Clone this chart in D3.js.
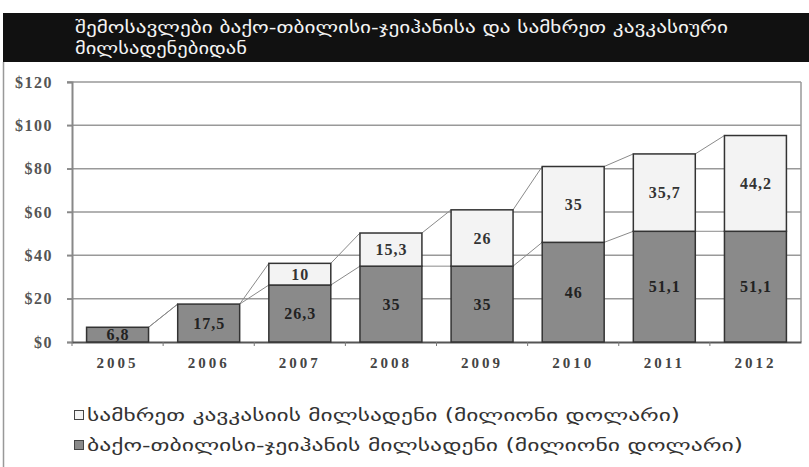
<!DOCTYPE html>
<html>
<head>
<meta charset="utf-8">
<script src="https://cdn.jsdelivr.net/npm/d3@7"></script>
<style>
  body { margin: 0; background: #fff; }
  svg { display: block; }
</style>
</head>
<body>
<svg id="chart" width="809" height="467"></svg>
<script>
var years = ["2005", "2006", "2007", "2008", "2009", "2010", "2011", "2012"];
var btcValues = [6.8, 17.5, 26.3, 35, 35, 46, 51.1, 51.1];
var scpValues = [0, 0, 10, 15.3, 26, 35, 35.7, 44.2];
var yTicks = [0, 20, 40, 60, 80, 100, 120];
var titleLines = [
  "შემოსავლები ბაქო-თბილისი-ჯეიჰანისა და სამხრეთ კავკასიური",
  "მილსადენებიდან"
];
var legendLabels = [
  "სამხრეთ კავკასიის მილსადენი (მილიონი დოლარი)",
  "ბაქო-თბილისი-ჯეიჰანის მილსადენი (მილიონი დოლარი)"
];

var svg = d3.select("#chart");
var geo = "'DejaVu Sans', sans-serif";
var serif = "'Liberation Serif', 'DejaVu Serif', serif";

// title band
svg.append("rect")
  .attr("x", 3).attr("y", 13).attr("width", 806).attr("height", 49)
  .attr("fill", "#111");
var titleWidths = [653, 172];
svg.selectAll(".title")
  .data(titleLines)
  .enter().append("text")
    .attr("class", "title")
    .attr("x", 75)
    .attr("y", function (d, i) { return 33 + i * 21; })
    .attr("fill", "#f4f4f4")
    .attr("textLength", function (d, i) { return titleWidths[i]; })
    .attr("lengthAdjust", "spacingAndGlyphs")
    .style("font-family", geo)
    .style("font-size", "17px")
    .text(function (d) { return d; });

// outer frame below title
svg.append("line")
  .attr("x1", 3.5).attr("x2", 3.5).attr("y1", 62).attr("y2", 467)
  .attr("stroke", "#999").attr("stroke-width", 1.5);

var plotLeft = 72, plotRight = 801, plotTop = 82, plotBottom = 342;

var x = d3.scaleBand().domain(years).range([plotLeft, plotRight])
  .paddingInner(0.32).paddingOuter(0.16);
var y = d3.scaleLinear().domain([0, 120]).range([plotBottom, plotTop]);

// grid
svg.selectAll(".grid")
  .data(yTicks.slice(1))
  .enter().append("line")
    .attr("class", "grid")
    .attr("x1", plotLeft - 5).attr("x2", plotRight)
    .attr("y1", function (d) { return y(d); })
    .attr("y2", function (d) { return y(d); })
    .attr("stroke", "#999").attr("stroke-width", 1.5);

svg.append("line")
  .attr("x1", plotRight).attr("x2", plotRight).attr("y1", plotTop).attr("y2", plotBottom)
  .attr("stroke", "#999").attr("stroke-width", 1.5);

// y axis
var yAxis = svg.append("g")
  .attr("transform", "translate(" + plotLeft + ",0)")
  .call(d3.axisLeft(y).tickValues(yTicks).tickSize(5).tickPadding(14)
    .tickFormat(function (d) { return "$" + d; }));
yAxis.select(".domain").attr("stroke", "#888").attr("stroke-width", 2);
yAxis.selectAll(".tick line").attr("stroke", "#888").attr("stroke-width", 1.5);
yAxis.selectAll("text")
  .attr("fill", "#555")
  .style("font-family", serif)
  .style("font-size", "16px")
  .style("font-weight", "bold")
  .style("letter-spacing", "1.5px");

// x axis
var xAxis = svg.append("g")
  .attr("transform", "translate(0," + plotBottom + ")")
  .call(d3.axisBottom(x).tickSize(0).tickPadding(15));
xAxis.select(".domain").attr("stroke", "#555").attr("stroke-width", 2);
xAxis.selectAll("text")
  .attr("fill", "#444")
  .style("font-family", serif)
  .style("font-size", "15px")
  .style("font-weight", "bold")
  .style("letter-spacing", "3px");
// small ticks between categories
svg.selectAll(".sep")
  .data(years)
  .enter().append("line")
    .attr("class", "sep")
    .attr("x1", function (d) { return x(d) - x.step() * x.paddingInner() / 2; })
    .attr("x2", function (d) { return x(d) - x.step() * x.paddingInner() / 2; })
    .attr("y1", plotBottom).attr("y2", plotBottom + 4)
    .attr("stroke", "#777");

// stacked data
var rows = years.map(function (yr, i) {
  return { year: yr, btc: btcValues[i], scp: scpValues[i] };
});
var stack = d3.stack().keys(["btc", "scp"])(rows);
var fills = { btc: "#8a8a8a", scp: "#f3f3f3" };

// connector lines
stack.forEach(function (layer) {
  for (var i = 0; i < years.length - 1; i++) {
    svg.append("line")
      .attr("x1", x(years[i]) + x.bandwidth())
      .attr("y1", y(layer[i][1]))
      .attr("x2", x(years[i + 1]))
      .attr("y2", y(layer[i + 1][1]))
      .attr("stroke", "#8a8a8a").attr("stroke-width", 1);
  }
});

stack.forEach(function (layer) {
  var key = layer.key;
  var g = svg.append("g");
  var vis = layer.filter(function (d) { return d.data[key] > 0; });
  g.selectAll("rect")
    .data(vis)
    .enter().append("rect")
      .attr("x", function (d) { return x(d.data.year); })
      .attr("y", function (d) { return y(d[1]); })
      .attr("width", x.bandwidth())
      .attr("height", function (d) { return y(d[0]) - y(d[1]); })
      .attr("fill", fills[key])
      .attr("stroke", "#333").attr("stroke-width", 1.5);
  g.selectAll("text")
    .data(vis)
    .enter().append("text")
      .attr("x", function (d) { return x(d.data.year) + x.bandwidth() / 2 + 0.5; })
      .attr("y", function (d) { return (y(d[0]) + y(d[1])) / 2 + 5.5; })
      .attr("text-anchor", "middle")
      .attr("fill", key === "btc" ? "#222" : "#333")
      .style("font-family", serif)
      .style("font-size", "16px")
      .style("font-weight", "bold")
      .style("letter-spacing", "1px")
      .text(function (d) { return String(d.data[key]).replace(".", ","); });
});

// legend
var legendFills = [fills.scp, fills.btc];
var legendEnds = [680, 743];
var lg = svg.selectAll(".legend")
  .data(legendLabels)
  .enter().append("g")
    .attr("class", "legend")
    .attr("transform", function (d, i) { return "translate(74," + (415 + i * 30) + ")"; });
lg.append("rect")
  .attr("x", 0.5).attr("y", -4.5).attr("width", 9).attr("height", 9)
  .attr("fill", function (d, i) { return legendFills[i]; })
  .attr("stroke", "#444").attr("stroke-width", 1);
lg.append("text")
  .attr("x", 13).attr("y", 6)
  .attr("fill", "#333")
  .attr("textLength", function (d, i) { return legendEnds[i] - 74 - 13; })
  .attr("lengthAdjust", "spacingAndGlyphs")
  .style("font-family", geo)
  .style("font-size", "17px")
  .text(function (d) { return d; });
</script>
</body>
</html>
